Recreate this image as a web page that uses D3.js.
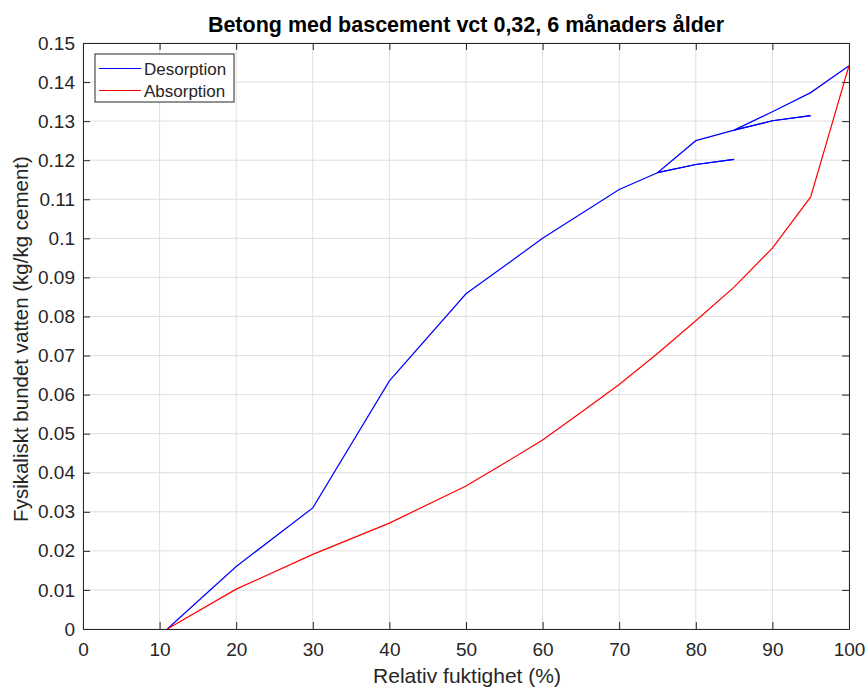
<!DOCTYPE html>
<html>
<head>
<meta charset="utf-8">
<script src="https://d3js.org/d3.v7.min.js"></script>
<style>
  body { margin: 0; background: #fff; }
  text { font-family: "Liberation Sans", Arial, Helvetica, sans-serif; fill: #262626; }
</style>
</head>
<body>
<div id="chart"></div>
<script>
// data
var desorpRH  = [11, 20, 30, 40, 50, 60, 70, 75, 80, 85, 90, 95, 100];
var desorpW   = [0, 0.016, 0.031, 0.0635, 0.0858, 0.1, 0.1125, 0.1168, 0.125, 0.1277, 0.1324, 0.1373, 0.1442];
// scanning branches (also desorption)
var scan1RH   = [75, 80, 85];
var scan1W    = [0.1168, 0.1189, 0.1202];
var scan2RH   = [85, 90, 95];
var scan2W    = [0.1277, 0.1301, 0.1314];

var absorpRH  = [11, 20, 30, 40, 50, 55, 60, 65, 70, 75, 80, 85, 90, 95, 100];
var absorpW   = [0, 0.0102, 0.0191, 0.0271, 0.0366, 0.0424, 0.0484, 0.0554, 0.0626, 0.0705, 0.0789, 0.0875, 0.0975, 0.1106, 0.1442];

var xTicks = [0, 10, 20, 30, 40, 50, 60, 70, 80, 90, 100];
var yTicks = [0, 0.01, 0.02, 0.03, 0.04, 0.05, 0.06, 0.07, 0.08, 0.09, 0.1, 0.11, 0.12, 0.13, 0.14, 0.15];

var W = 867, H = 689;
var margin = {top: 43, right: 18, bottom: 60, left: 83};
var width = W - margin.left - margin.right,
    height = H - margin.top - margin.bottom;

var svg = d3.select("#chart").append("svg")
  .attr("width", W).attr("height", H);
var g = svg.append("g")
  .attr("transform", "translate(" + margin.left + "," + margin.top + ")");

var x = d3.scaleLinear().domain([0, 100]).range([0, width]);
var y = d3.scaleLinear().domain([0, 0.15]).range([height, 0]);

// grid
g.append("g").selectAll("line").data(xTicks).enter().append("line")
  .attr("x1", d => x(d)).attr("x2", d => x(d))
  .attr("y1", 0).attr("y2", height)
  .attr("stroke", "#dfdfdf").attr("stroke-width", 1);
g.append("g").selectAll("line").data(yTicks).enter().append("line")
  .attr("y1", d => y(d)).attr("y2", d => y(d))
  .attr("x1", 0).attr("x2", width)
  .attr("stroke", "#dfdfdf").attr("stroke-width", 1);

// axes (ticks pointing inward, box on)
var fmt = d => d === 0 ? "0" : String(+d.toFixed(2));
var xAx = g.append("g").attr("transform", "translate(0," + height + ")")
  .call(d3.axisBottom(x).tickValues(xTicks).tickFormat(fmt).tickSizeInner(-7).tickSizeOuter(0).tickPadding(14));
var yAx = g.append("g")
  .call(d3.axisLeft(y).tickValues(yTicks).tickFormat(fmt).tickSizeInner(-7).tickSizeOuter(0).tickPadding(8));
var xTop = g.append("g")
  .call(d3.axisTop(x).tickValues(xTicks).tickFormat("").tickSizeInner(-7).tickSizeOuter(0));
var yRight = g.append("g").attr("transform", "translate(" + width + ",0)")
  .call(d3.axisRight(y).tickValues(yTicks).tickFormat("").tickSizeInner(-7).tickSizeOuter(0));
[xAx, yAx, xTop, yRight].forEach(function (a) {
  a.selectAll("path, line").attr("stroke", "#262626");
  a.selectAll("text").style("font-size", "19px").attr("fill", "#262626")
    .style("font-family", "'Liberation Sans', Arial, sans-serif");
});
xAx.selectAll("text").attr("dy", "0.71em");

// lines
var line = d3.line().x(d => x(d[0])).y(d => y(d[1]));
function draw(xs, ys, col) {
  g.append("path")
    .datum(xs.map((v, i) => [v, ys[i]]))
    .attr("fill", "none").attr("stroke", col).attr("stroke-width", 1.2)
    .attr("d", line);
}
draw(desorpRH, desorpW, "#0000ff");
draw(scan1RH, scan1W, "#0000ff");
draw(scan1RH, scan1W, "#0000ff");
draw(scan2RH, scan2W, "#0000ff");
draw(scan2RH, scan2W, "#0000ff");
draw(absorpRH, absorpW, "#ff0000");

// legend
var leg = svg.append("g").attr("transform", "translate(95,54)");
leg.append("rect").attr("width", 139).attr("height", 48)
  .attr("fill", "#fff").attr("stroke", "#262626").attr("stroke-width", 1);
var legItems = [["Desorption", "#0000ff"], ["Absorption", "#ff0000"]];
legItems.forEach(function (d, i) {
  var yy = 14.5 + i * 22;
  leg.append("line").attr("x1", 4).attr("x2", 46).attr("y1", yy).attr("y2", yy)
    .attr("stroke", d[1]).attr("stroke-width", 1);
  leg.append("text").attr("x", 49).attr("y", yy + 6).style("font-size", "17px").text(d[0]);
});

// title and labels
svg.append("text").attr("x", margin.left + width / 2).attr("y", 32)
  .attr("text-anchor", "middle").style("font-size", "21.5px").style("font-weight", "bold")
  .style("fill", "#000")
  .text("Betong med bascement vct 0,32, 6 månaders ålder");
svg.append("text").attr("x", margin.left + width / 2 + 1).attr("y", 683)
  .attr("text-anchor", "middle").style("font-size", "21px")
  .text("Relativ fuktighet (%)");
svg.append("text")
  .attr("transform", "translate(28," + (margin.top + height / 2 + 3) + ") rotate(-90)")
  .attr("text-anchor", "middle").style("font-size", "20.5px")
  .text("Fysikaliskt bundet vatten (kg/kg cement)");
</script>
</body>
</html>
